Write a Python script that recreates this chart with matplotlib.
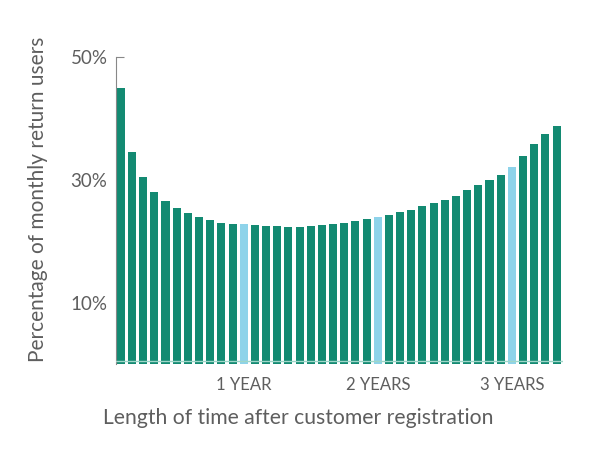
import matplotlib
matplotlib.use("Agg")
import matplotlib.pyplot as plt
import numpy as np

plt.rcParams['font.family'] = ['Lato', 'DejaVu Sans']

# monthly return rate, months 1..40 after registration
months = np.arange(1, 41)
rates = [44.9, 34.5, 30.5, 28.1, 26.6, 25.4, 24.6, 23.9, 23.4, 23.0,
         22.8, 22.8, 22.6, 22.5, 22.5, 22.4, 22.3, 22.45, 22.6, 22.75,
         23.0, 23.3, 23.6, 23.9, 24.3, 24.7, 25.1, 25.8, 26.2, 26.8,
         27.3, 28.3, 29.2, 30.0, 30.8, 32.1, 33.9, 35.8, 37.5, 38.8]
year_months = [12, 24, 36]
year_labels = ['1 YEAR', '2 YEARS', '3 YEARS']
yticks = [10, 20, 30, 40, 50]
ylabels = ['10%', '', '30%', '', '50%']

teal = '#138a72'
light = '#8ed3ea'
grey = '#5e5e5e'

fig = plt.figure(figsize=(6, 4.51), dpi=100)
ax = fig.add_axes([0.193, 0.192, 0.745, 0.682])

colors = [light if m in year_months else teal for m in months]
ax.bar(months, rates, width=0.72, color=colors, zorder=2)
ax.axhline(0.5, color='#9fd6c8', lw=1, zorder=3)

ax.set_xlim(0.55, 40.56)
ax.set_ylim(0, 50)

for s in ['top', 'right', 'bottom']:
    ax.spines[s].set_visible(False)
ax.spines['left'].set_color('#888888')
ax.spines['left'].set_linewidth(0.8)

ax.set_yticks(yticks)
ax.set_yticklabels(ylabels)
ax.tick_params(axis='y', direction='in', length=6, width=0.8, color='#888888',
               labelsize=13.5, labelcolor=grey, pad=6)
ax.set_xticks(year_months)
ax.set_xticklabels(year_labels)
ax.tick_params(axis='x', length=0, labelsize=12, labelcolor=grey, pad=9)

fig.text(0.064, 0.558, 'Percentage of monthly return users', fontsize=15, color=grey,
         rotation=90, ha='center', va='center')
fig.text(0.171, 0.073, 'Length of time after customer registration', fontsize=15.2, color=grey,
         ha='left', va='center')

fig.savefig('out.png', dpi=100)
